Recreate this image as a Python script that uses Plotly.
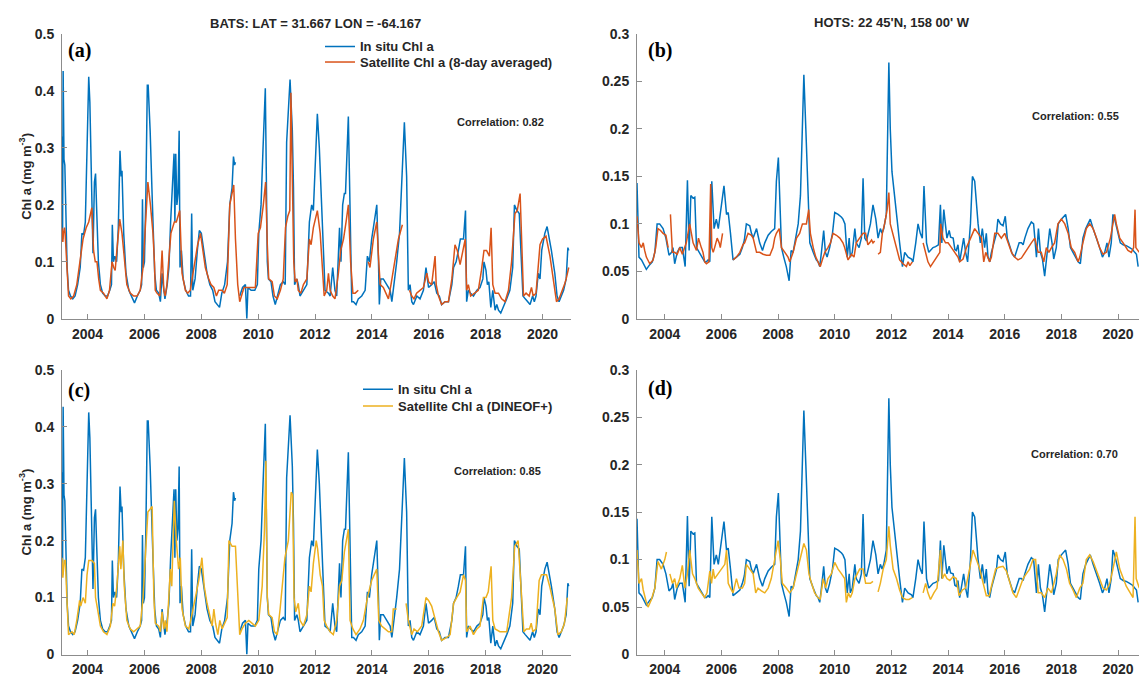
import plotly.graph_objects as go

W, H = 1139, 686

# ---------------- BATS in situ ----------------
bats_insitu_t = [
    2003.10, 2003.12, 2003.14, 2003.17, 2003.20, 2003.24, 2003.28, 2003.33, 2003.40, 2003.48,
    2003.56, 2003.65, 2003.74, 2003.80, 2003.86, 2003.92, 2004.00, 2004.04, 2004.08, 2004.14,
    2004.19, 2004.24, 2004.28, 2004.32, 2004.38, 2004.45, 2004.53, 2004.62, 2004.70, 2004.78,
    2004.84, 2004.87, 2004.91, 2004.96, 2005.02, 2005.08, 2005.14, 2005.18, 2005.21, 2005.27,
    2005.35, 2005.45, 2005.55, 2005.65, 2005.75, 2005.85, 2005.90, 2005.93, 2005.96, 2006.00,
    2006.05, 2006.10, 2006.13, 2006.20, 2006.28, 2006.36, 2006.42, 2006.50, 2006.56, 2006.62,
    2006.66, 2006.72, 2006.80, 2006.86, 2006.92, 2006.98, 2007.04, 2007.07, 2007.10, 2007.14,
    2007.18, 2007.22, 2007.25, 2007.30, 2007.36, 2007.45, 2007.55, 2007.62, 2007.66, 2007.70,
    2007.78, 2007.86, 2007.93, 2008.00, 2008.10, 2008.20, 2008.30, 2008.40, 2008.48, 2008.56,
    2008.64, 2008.72, 2008.82, 2008.92, 2009.00, 2009.08, 2009.13, 2009.17, 2009.20, 2009.27,
    2009.35, 2009.45, 2009.55, 2009.60, 2009.64, 2009.75, 2009.88, 2009.97, 2010.02, 2010.10,
    2010.17, 2010.22, 2010.25, 2010.32, 2010.36, 2010.45, 2010.52, 2010.60, 2010.68, 2010.78,
    2010.88, 2010.95, 2011.00, 2011.07, 2011.12, 2011.20, 2011.24, 2011.28, 2011.36, 2011.41,
    2011.47, 2011.59, 2011.71, 2011.80, 2011.88, 2011.94, 2012.08, 2012.15, 2012.23, 2012.29,
    2012.35, 2012.47, 2012.53, 2012.62, 2012.70, 2012.76, 2012.86, 2012.91, 2012.97, 2013.03,
    2013.07, 2013.17, 2013.23, 2013.27, 2013.29, 2013.35, 2013.44, 2013.52, 2013.64, 2013.76,
    2013.84, 2013.91, 2013.99, 2014.11, 2014.17, 2014.23, 2014.26, 2014.31, 2014.40, 2014.52,
    2014.64, 2014.70, 2014.75, 2014.87, 2014.97, 2015.05, 2015.14, 2015.22, 2015.28, 2015.34,
    2015.40, 2015.46, 2015.58, 2015.69, 2015.81, 2015.90, 2015.99, 2016.10, 2016.19, 2016.28,
    2016.37, 2016.45, 2016.57, 2016.69, 2016.81, 2016.87, 2016.96, 2017.04, 2017.11, 2017.22,
    2017.29, 2017.33, 2017.39, 2017.47, 2017.57, 2017.69, 2017.80, 2017.90, 2017.94, 2018.01,
    2018.06, 2018.11, 2018.18, 2018.25, 2018.33, 2018.39, 2018.45, 2018.53, 2018.62, 2018.74,
    2018.85, 2018.95, 2019.01, 2019.10, 2019.18, 2019.24, 2019.31, 2019.39, 2019.47, 2019.56,
    2019.65, 2019.71, 2019.77, 2019.85, 2019.91, 2019.97, 2020.08, 2020.16, 2020.31, 2020.43,
    2020.51, 2020.58, 2020.66, 2020.74, 2020.83, 2020.89, 2020.92]
bats_insitu_v = [
    0.32, 0.14, 0.435, 0.28, 0.27, 0.20, 0.09, 0.05, 0.04, 0.035,
    0.04, 0.06, 0.09, 0.15, 0.148, 0.17, 0.38, 0.425, 0.38, 0.20,
    0.115, 0.24, 0.255, 0.19, 0.10, 0.06, 0.045, 0.04, 0.04, 0.05,
    0.06, 0.165, 0.10, 0.11, 0.10, 0.16, 0.295, 0.25, 0.26, 0.15,
    0.08, 0.05, 0.04, 0.028, 0.04, 0.05, 0.06, 0.21, 0.09, 0.10,
    0.22, 0.41, 0.41, 0.33, 0.20, 0.08, 0.05, 0.045, 0.03, 0.08,
    0.06, 0.035, 0.06, 0.09, 0.17, 0.22, 0.29, 0.17, 0.29, 0.20,
    0.22, 0.33, 0.09, 0.12, 0.07, 0.05, 0.04, 0.04, 0.185, 0.05,
    0.07, 0.12, 0.155, 0.15, 0.11, 0.08, 0.06, 0.05, 0.03, 0.025,
    0.02, 0.045, 0.06, 0.10, 0.20, 0.23, 0.285, 0.27, 0.275, None,
    0.04, 0.055, 0.06, 0.0, 0.055, 0.05, 0.05, 0.06, 0.15, 0.20,
    0.30, 0.39, 0.405, 0.10, 0.07, 0.065, 0.04, 0.025, 0.04, 0.06,
    0.065, 0.06, 0.31, 0.37, 0.42, 0.33, 0.23, 0.06, 0.07, 0.06,
    0.04, 0.05, 0.06, 0.17, 0.20, 0.19, 0.36, 0.30, 0.20, 0.10,
    0.05, 0.045, 0.04, 0.09, 0.05, 0.04, 0.16, 0.10, 0.20, 0.22,
    0.22, 0.355, 0.20, 0.10, 0.03, 0.03, 0.025, 0.035, 0.04, 0.05,
    0.11, 0.10, 0.14, 0.18, 0.20, 0.10, 0.025, 0.07, 0.07, 0.06,
    0.05, 0.03, 0.05, 0.10, 0.15, 0.25, 0.345, 0.25, 0.05, 0.06,
    0.03, 0.025, 0.04, 0.035, 0.05, 0.09, 0.055, 0.06, 0.065, 0.045,
    0.04, 0.025, 0.03, 0.03, 0.06, 0.09, 0.10, 0.12, 0.14, 0.14,
    0.19, 0.03, 0.05, 0.045, 0.04, 0.05, 0.055, 0.07, 0.10, 0.085,
    0.06, 0.065, 0.02, 0.05, 0.015, 0.025, 0.015, 0.01, 0.02, 0.035,
    0.05, 0.09, 0.20, 0.19, 0.185, 0.12, 0.04, 0.035, 0.03, 0.025,
    0.04, 0.03, 0.04, 0.08, 0.07, 0.12, 0.15, 0.162, 0.12, 0.08,
    0.04, 0.03, 0.04, 0.05, 0.07, 0.125, 0.12]

# ---------------- BATS satellite, 8-day averaged ----------------
bats_8day_t = [
    2003.10, 2003.13, 2003.15, 2003.19, 2003.21, 2003.27, 2003.33, 2003.41, 2003.51, 2003.62,
    2003.74, 2003.84, 2003.95, 2004.04, 2004.15, 2004.21, 2004.27, 2004.33, 2004.39, 2004.45,
    2004.56, 2004.68, 2004.77, 2004.86, 2004.92, 2004.97, 2005.03, 2005.13, 2005.21, 2005.29,
    2005.38, 2005.50, 2005.62, 2005.74, 2005.85, 2005.95, 2006.03, 2006.12, 2006.21, 2006.30,
    2006.35, 2006.38, 2006.44, 2006.54, 2006.62, 2006.68, 2006.73, 2006.79, 2006.85, 2006.93,
    2007.05, 2007.12, 2007.24, 2007.32, 2007.44, 2007.52, 2007.61, 2007.71, 2007.79, 2007.87,
    2007.97, 2008.06, 2008.14, 2008.26, 2008.34, 2008.44, 2008.53, 2008.61, 2008.73, 2008.81,
    2008.91, 2009.00, 2009.08, 2009.14, 2009.20, 2009.28, 2009.35, 2009.50, 2009.70, 2009.90,
    2010.00, 2010.08, 2010.18, 2010.26, 2010.32, 2010.37, 2010.49, 2010.57, 2010.67, 2010.78,
    2010.88, 2010.96, 2011.04, 2011.11, 2011.15, 2011.20, 2011.25, 2011.30, 2011.36, 2011.41,
    2011.50, 2011.59, 2011.71, 2011.80, 2011.86, 2011.94, 2012.08, 2012.18, 2012.27, 2012.32,
    2012.41, 2012.47, 2012.53, 2012.62, 2012.70, 2012.82, 2012.90, 2013.00, 2013.09, 2013.17,
    2013.25, 2013.33, 2013.41, 2013.52, 2013.70, 2013.87, 2013.93, 2014.05, 2014.17, 2014.24,
    2014.29, 2014.40, 2014.52, 2014.58, 2014.67, 2014.81, 2014.93, 2015.07, 2015.20, 2015.32,
    2015.40, 2015.48, 2015.57, 2015.69, 2015.81, 2015.93, 2015.99, 2016.10, 2016.22, 2016.26,
    2016.34, 2016.45, 2016.57, 2016.69, 2016.81, 2016.92, 2017.00, 2017.10, 2017.19, 2017.28,
    2017.33, 2017.39, 2017.47, 2017.62, 2017.74, 2017.85, 2017.94, 2018.03, 2018.13, 2018.19,
    2018.25, 2018.33, 2018.45, 2018.56, 2018.68, 2018.80, 2018.91, 2019.03, 2019.11, 2019.21,
    2019.27, 2019.33, 2019.42, 2019.53, 2019.61, 2019.67, 2019.77, 2019.85, 2019.91, 2020.00,
    2020.12, 2020.26, 2020.37, 2020.49, 2020.58, 2020.70, 2020.77, 2020.83, 2020.92]
bats_8day_v = [
    0.16, 0.135, 0.15, 0.16, 0.15, 0.10, 0.04, 0.035, 0.04, 0.06,
    0.10, 0.14, 0.16, 0.17, 0.195, 0.12, 0.10, 0.10, 0.07, 0.05,
    0.045, 0.035, 0.05, 0.10, 0.09, 0.085, 0.12, 0.175, 0.15, 0.10,
    0.06, 0.045, 0.04, 0.04, 0.05, 0.09, 0.17, 0.24, 0.20, 0.15,
    0.10, 0.05, 0.045, 0.04, 0.12, 0.05, 0.04, 0.06, 0.10, 0.15,
    0.17, 0.17, 0.19, 0.08, 0.05, 0.045, 0.05, 0.08, 0.10, 0.13,
    0.15, 0.12, 0.09, 0.07, 0.06, 0.055, 0.04, 0.05, 0.05, 0.045,
    0.06, 0.20, 0.22, 0.235, 0.14, 0.06, 0.03, 0.055, 0.055, 0.055,
    0.15, 0.16, 0.20, 0.24, 0.13, 0.07, 0.065, 0.04, 0.035, 0.05,
    0.07, 0.16, 0.18, 0.19, 0.397, 0.24, 0.10, 0.065, 0.07, 0.05,
    0.045, 0.06, 0.07, 0.14, 0.13, 0.16, 0.19, 0.15, 0.08, 0.04,
    0.05, 0.08, 0.05, 0.04, 0.035, 0.08, 0.12, 0.14, 0.17, 0.20,
    0.10, 0.045, 0.045, 0.05, None, 0.10, 0.09, 0.14, 0.17, 0.10,
    0.06, 0.055, 0.04, 0.035, 0.06, 0.10, 0.14, 0.165, None, 0.05,
    0.04, 0.035, 0.045, 0.05, 0.055, 0.08, 0.065, 0.06, 0.11, 0.06,
    0.04, 0.025, 0.03, 0.03, 0.07, 0.13, 0.12, 0.095, 0.12, 0.14,
    0.05, 0.06, 0.04, 0.045, 0.05, 0.085, 0.12, 0.12, 0.11, 0.16,
    0.06, 0.045, 0.045, 0.035, 0.03, 0.05, 0.10, 0.185, 0.19, 0.22,
    0.12, 0.04, 0.045, 0.04, 0.055, 0.04, 0.045, 0.09, 0.13, 0.14,
    0.145, 0.11, 0.07, 0.03, 0.035, 0.05, 0.06, 0.07, 0.09]

# ---------------- BATS satellite, DINEOF+ ----------------
bats_dineof_t = [
    2003.10, 2003.13, 2003.18, 2003.22, 2003.27, 2003.33, 2003.45, 2003.53, 2003.62, 2003.72,
    2003.76, 2003.84, 2003.92, 2003.98, 2004.04, 2004.15, 2004.24, 2004.28, 2004.35, 2004.45,
    2004.56, 2004.68, 2004.80, 2004.89, 2004.95, 2005.03, 2005.13, 2005.17, 2005.24, 2005.29,
    2005.38, 2005.50, 2005.62, 2005.74, 2005.85, 2005.95, 2006.03, 2006.12, 2006.27, 2006.33,
    2006.38, 2006.50, 2006.56, 2006.62, 2006.68, 2006.73, 2006.79, 2006.85, 2006.91, 2006.96,
    2007.05, 2007.12, 2007.20, 2007.26, 2007.32, 2007.44, 2007.56, 2007.67, 2007.79, 2007.91,
    2008.02, 2008.10, 2008.20, 2008.29, 2008.38, 2008.44, 2008.50, 2008.58, 2008.65, 2008.73,
    2008.81, 2008.91, 2008.97, 2009.08, 2009.20, 2009.23, 2009.28, 2009.35, 2009.43, 2009.55,
    2009.67, 2009.79, 2009.90, 2010.02, 2010.14, 2010.22, 2010.27, 2010.32, 2010.37, 2010.49,
    2010.57, 2010.67, 2010.77, 2010.94, 2011.06, 2011.16, 2011.21, 2011.26, 2011.32, 2011.41,
    2011.47, 2011.59, 2011.71, 2011.80, 2011.86, 2011.94, 2012.04, 2012.09, 2012.18, 2012.26,
    2012.32, 2012.41, 2012.53, 2012.64, 2012.76, 2012.86, 2012.94, 2013.03, 2013.17, 2013.23,
    2013.33, 2013.44, 2013.58, 2013.70, 2013.84, 2013.99, 2014.17, 2014.24, 2014.34, 2014.46,
    2014.58, 2014.70, 2014.75, 2014.87, 2015.05, 2015.20, 2015.28, 2015.40, 2015.48, 2015.60,
    2015.75, 2015.90, 2015.99, 2016.10, 2016.22, 2016.34, 2016.45, 2016.63, 2016.75, 2016.87,
    2016.98, 2017.10, 2017.22, 2017.29, 2017.33, 2017.45, 2017.57, 2017.69, 2017.80, 2017.92,
    2018.01, 2018.09, 2018.19, 2018.25, 2018.33, 2018.50, 2018.62, 2018.74, 2018.91, 2019.02,
    2019.14, 2019.25, 2019.34, 2019.43, 2019.54, 2019.60, 2019.66, 2019.77, 2019.88, 2019.96,
    2020.14, 2020.25, 2020.43, 2020.54, 2020.66, 2020.77, 2020.87]
bats_dineof_v = [
    0.17, 0.135, 0.165, 0.165, 0.10, 0.035, 0.04, 0.035, 0.06, 0.095,
    0.085, 0.10, 0.09, 0.14, 0.165, 0.165, 0.16, 0.10, 0.08, 0.05,
    0.04, 0.035, 0.05, 0.09, 0.085, 0.12, 0.19, 0.15, 0.20, 0.12,
    0.06, 0.045, 0.04, 0.045, 0.05, 0.10, 0.17, 0.25, 0.26, 0.10,
    0.055, 0.05, 0.04, 0.075, 0.045, 0.06, 0.04, 0.10, 0.15, 0.12,
    0.27, 0.20, 0.15, 0.17, 0.08, 0.05, 0.045, 0.07, 0.10, 0.13,
    0.17, 0.12, 0.09, 0.07, 0.05, 0.08, 0.055, 0.035, 0.06, 0.045,
    0.055, 0.065, 0.20, 0.19, 0.19, 0.155, 0.10, 0.035, 0.045, 0.055,
    0.06, 0.055, 0.05, 0.06, 0.12, 0.22, 0.34, 0.10, 0.07, 0.065,
    0.04, 0.035, 0.08, 0.17, 0.20, 0.285, 0.28, 0.10, 0.075, 0.09,
    0.06, 0.05, 0.07, 0.12, 0.11, 0.16, 0.20, 0.185, 0.14, 0.12,
    0.06, 0.05, 0.04, 0.035, 0.06, 0.12, 0.13, 0.18, 0.22, 0.06,
    0.045, 0.035, 0.045, 0.06, 0.10, 0.13, 0.15, 0.06, 0.05, 0.045,
    0.04, 0.04, 0.08, 0.08, None, 0.09, 0.06, 0.035, 0.045, 0.04,
    0.05, 0.10, 0.095, 0.085, 0.06, 0.04, 0.025, 0.03, 0.035, 0.09,
    0.10, 0.11, 0.14, 0.13, 0.04, 0.05, 0.035, 0.045, 0.05, 0.10,
    0.10, 0.11, 0.155, 0.06, 0.045, 0.04, 0.04, 0.04, 0.10, 0.19,
    0.20, 0.10, 0.04, 0.045, 0.045, 0.055, 0.04, 0.045, 0.13, 0.14,
    0.14, 0.12, 0.08, 0.035, 0.04, 0.055, 0.10]

# ---------------- HOTS in situ ----------------
hots_insitu_t = [
    2003.02, 2003.09, 2003.18, 2003.26, 2003.35, 2003.47, 2003.56, 2003.65, 2003.73, 2003.82,
    2003.94, 2004.04, 2004.15, 2004.24, 2004.29, 2004.35, 2004.44, 2004.53, 2004.62, 2004.72,
    2004.80, 2004.86, 2004.92, 2005.00, 2005.06, 2005.12, 2005.21, 2005.29, 2005.35, 2005.41,
    2005.47, 2005.53, 2005.59, 2005.66, 2005.74, 2005.82, 2005.89, 2005.96, 2006.01, 2006.09,
    2006.18, 2006.24, 2006.32, 2006.41, 2006.53, 2006.65, 2006.74, 2006.81, 2006.88, 2007.00,
    2007.06, 2007.12, 2007.18, 2007.24, 2007.29, 2007.35, 2007.45, 2007.53, 2007.65, 2007.76,
    2007.88, 2007.94, 2008.01, 2008.06, 2008.12, 2008.20, 2008.29, 2008.39, 2008.46, 2008.53,
    2008.62, 2008.71, 2008.79, 2008.86, 2008.91, 2008.98, 2009.05, 2009.12, 2009.24, 2009.35,
    2009.41, 2009.47, 2009.53, 2009.61, 2009.67, 2009.73, 2009.82, 2009.92, 2010.00, 2010.12,
    2010.24, 2010.29, 2010.36, 2010.44, 2010.51, 2010.55, 2010.62, 2010.71, 2010.76, 2010.86,
    2010.94, 2011.00, 2011.06, 2011.12, 2011.26, 2011.35, 2011.45, 2011.53, 2011.61, 2011.67,
    2011.73, 2011.82, 2011.91, 2011.96, 2012.02, 2012.12, 2012.20, 2012.29, 2012.39, 2012.47,
    2012.59, 2012.71, 2012.76, 2012.86, 2012.94, 2013.02, 2013.09, 2013.15, 2013.24, 2013.32,
    2013.39, 2013.47, 2013.56, 2013.66, 2013.73, 2013.78, 2013.85, 2013.91, 2013.96, 2014.04,
    2014.09, 2014.18, 2014.24, 2014.29, 2014.35, 2014.41, 2014.48, 2014.55, 2014.62, 2014.69,
    2014.79, 2014.86, 2014.94, 2015.00, 2015.06, 2015.14, 2015.21, 2015.29, 2015.35, 2015.41,
    2015.47, 2015.53, 2015.61, 2015.71, 2015.76, 2015.85, 2015.94, 2016.02, 2016.09, 2016.18,
    2016.27, 2016.35, 2016.41, 2016.51, 2016.59, 2016.65, 2016.71, 2016.82, 2016.94, 2017.02,
    2017.12, 2017.19, 2017.26, 2017.33, 2017.41, 2017.49, 2017.59, 2017.67, 2017.73, 2017.82,
    2017.89, 2018.00, 2018.08, 2018.15, 2018.24, 2018.32, 2018.41, 2018.51, 2018.59, 2018.67,
    2018.76, 2018.86, 2018.94, 2019.02, 2019.12, 2019.24, 2019.35, 2019.45, 2019.53, 2019.61,
    2019.68, 2019.76, 2019.82, 2019.88, 2020.00, 2020.08, 2020.18, 2020.29, 2020.41, 2020.51,
    2020.59, 2020.65, 2020.71]
hots_insitu_v = [
    0.143, 0.065, 0.062, 0.058, 0.052, 0.057, 0.06, 0.07, 0.10, 0.10,
    0.095, 0.085, 0.067, 0.07, 0.075, 0.058, 0.07, 0.075, 0.075, 0.055,
    0.146, 0.072, 0.13, 0.127, 0.128, 0.075, 0.07, 0.065, 0.062, 0.06,
    0.06, 0.062, 0.06, 0.145, 0.095, 0.105, 0.095, 0.11, 0.12, 0.14,
    0.11, 0.112, 0.09, 0.062, 0.065, 0.068, 0.075, 0.083, 0.10, 0.098,
    0.09, 0.085, 0.09, 0.095, 0.088, 0.08, 0.072, 0.08, 0.088, 0.092,
    0.095, 0.145, 0.17, 0.125, 0.075, 0.065, 0.055, 0.04, 0.072, 0.07,
    0.085, 0.10, 0.13, 0.20, 0.257, 0.20, 0.13, 0.08, 0.07, 0.062,
    0.06, 0.055, 0.07, 0.093, 0.07, 0.065, 0.075, 0.09, 0.112, 0.11,
    0.107, 0.105, 0.10, 0.065, 0.085, 0.065, 0.07, 0.095, 0.08, 0.075,
    0.085, 0.148, 0.085, 0.082, 0.10, 0.12, 0.105, 0.085, 0.095, 0.09,
    0.095, 0.11, 0.27, 0.20, 0.155, 0.13, 0.105, 0.08, 0.055, 0.07,
    0.065, 0.063, 0.06, 0.08, 0.10, 0.09, 0.085, 0.14, 0.08, 0.07,
    0.072, 0.075, 0.076, 0.078, 0.12, 0.08, 0.115, 0.10, 0.085, 0.093,
    0.086, 0.085, 0.073, 0.072, 0.078, 0.06, 0.075, 0.085, 0.07, 0.06,
    0.10, 0.15, 0.145, 0.12, 0.10, 0.08, 0.095, 0.075, 0.09, 0.065,
    0.06, 0.07, 0.08, 0.09, 0.105, 0.10, 0.098, 0.108, 0.085, 0.075,
    0.068, 0.065, 0.07, 0.08, 0.08, 0.078, 0.085, 0.095, 0.102, 0.10,
    0.065, 0.095, 0.07, 0.063, 0.045, 0.07, 0.095, 0.08, 0.063, 0.075,
    0.10, 0.105, 0.108, 0.11, 0.095, 0.075, 0.07, 0.065, 0.06, 0.058,
    0.085, 0.095, 0.10, 0.105, 0.095, 0.085, 0.075, 0.065, 0.07, 0.08,
    0.065, 0.08, 0.11, 0.105, 0.09, 0.08, 0.078, 0.077, 0.075, 0.073,
    0.07, 0.068, 0.055]

# ---------------- HOTS satellite, 8-day averaged ----------------
hots_8day_t = [
    2003.02, 2003.09, 2003.18, 2003.24, 2003.29, 2003.35, 2003.47, 2003.59, 2003.68, 2003.76,
    2003.85, 2003.94, 2004.04, 2004.12, 2004.16, 2004.20, 2004.27, 2004.35, 2004.44, 2004.53,
    2004.62, 2004.76, 2004.88, 2004.94, 2005.00, 2005.12, 2005.19, 2005.29, 2005.35, 2005.41,
    2005.47, 2005.56, 2005.62, 2005.66, 2005.71, 2005.76, 2005.85, 2005.92, 2005.96, 2006.04,
    2006.20, 2006.41, 2006.53, 2006.65, 2006.76, 2006.82, 2006.94, 2007.06, 2007.12, 2007.24,
    2007.35, 2007.47, 2007.59, 2007.71, 2007.82, 2007.88, 2007.94, 2008.04, 2008.12, 2008.24,
    2008.35, 2008.41, 2008.53, 2008.65, 2008.76, 2008.86, 2009.00, 2009.08, 2009.14, 2009.24,
    2009.33, 2009.41, 2009.49, 2009.56, 2009.65, 2009.76, 2009.85, 2009.94, 2010.06, 2010.18,
    2010.29, 2010.35, 2010.47, 2010.59, 2010.68, 2010.76, 2010.88, 2011.00, 2011.09, 2011.17,
    2011.23, 2011.30, 2011.35, 2011.41, 2011.47, 2011.53, 2011.61, 2011.68, 2011.76, 2011.85,
    2011.91, 2011.96, 2012.04, 2012.12, 2012.20, 2012.29, 2012.41, 2012.53, 2012.59, 2012.65,
    2012.74, 2012.90, 2013.12, 2013.21, 2013.29, 2013.38, 2013.49, 2013.61, 2013.71, 2013.74,
    2013.82, 2013.91, 2014.00, 2014.12, 2014.24, 2014.35, 2014.41, 2014.53, 2014.65, 2014.94,
    2015.06, 2015.18, 2015.26, 2015.33, 2015.47, 2015.53, 2015.65, 2015.76, 2015.88, 2016.00,
    2016.12, 2016.24, 2016.35, 2016.47, 2016.59, 2016.71, 2016.82, 2016.94, 2017.06, 2017.18,
    2017.29, 2017.38, 2017.47, 2017.56, 2017.65, 2017.76, 2017.88, 2018.00, 2018.12, 2018.24,
    2018.35, 2018.47, 2018.59, 2018.65, 2018.76, 2018.88, 2019.00, 2019.12, 2019.24, 2019.35,
    2019.47, 2019.59, 2019.73, 2019.88, 2019.94, 2020.06, 2020.18, 2020.29, 2020.35, 2020.47,
    2020.55, 2020.60, 2020.63, 2020.75]
hots_8day_v = [
    0.108, 0.08, 0.075, 0.08, 0.072, 0.065, 0.058, 0.062, 0.075, 0.095,
    0.093, 0.09, 0.088, 0.075, None, 0.11, 0.07, 0.07, 0.068, 0.075,
    0.068, 0.08, 0.10, 0.09, 0.08, 0.072, 0.085, 0.075, 0.07, 0.06,
    0.058, 0.06, 0.142, 0.075, 0.07, 0.075, 0.085, 0.08, 0.075, 0.09,
    None, 0.062, 0.065, 0.07, 0.078, 0.08, 0.09, 0.088, 0.085, 0.07,
    0.07, 0.068, 0.067, 0.067, 0.075, 0.085, 0.09, 0.095, 0.075, 0.07,
    0.065, 0.06, 0.07, 0.085, 0.09, 0.10, 0.10, 0.115, 0.09, 0.075,
    0.065, 0.06, 0.055, 0.062, 0.07, 0.075, 0.08, 0.09, 0.088, 0.085,
    0.08, 0.075, 0.062, 0.068, 0.065, 0.08, 0.085, 0.09, 0.09, 0.078,
    0.08, 0.083, 0.08, 0.082, None, 0.068, 0.07, 0.09, 0.10, 0.115,
    0.133, 0.10, 0.09, 0.08, 0.07, 0.062, 0.058, 0.055, 0.06, 0.056,
    0.06, None, 0.08, 0.07, 0.06, 0.055, 0.06, 0.065, 0.07, 0.10,
    0.085, 0.08, 0.08, 0.075, 0.07, 0.065, 0.06, 0.063, 0.075, 0.095,
    0.09, 0.085, 0.06, 0.07, 0.06, 0.065, 0.09, 0.09, 0.085, 0.09,
    0.08, 0.07, 0.065, 0.062, 0.064, 0.07, 0.075, 0.08, 0.085, 0.07,
    0.07, 0.06, 0.075, 0.07, 0.075, 0.08, 0.10, 0.105, 0.10, 0.09,
    0.075, 0.07, 0.06, 0.065, 0.08, 0.095, 0.10, 0.095, 0.085, 0.075,
    0.068, 0.07, 0.085, 0.11, 0.10, 0.085, 0.08, 0.075, 0.072, 0.07,
    0.075, 0.115, 0.075, 0.07]

# ---------------- HOTS satellite, DINEOF+ ----------------
hots_dineof_t = [
    2003.02, 2003.09, 2003.18, 2003.24, 2003.35, 2003.41, 2003.53, 2003.65, 2003.76, 2003.88,
    2004.00, 2004.06, 2004.12, 2004.18, 2004.27, 2004.35, 2004.41, 2004.53, 2004.62, 2004.71,
    2004.80, 2004.88, 2004.98, 2005.06, 2005.18, 2005.29, 2005.41, 2005.49, 2005.59, 2005.65,
    2005.71, 2005.76, 2005.88, 2006.00, 2006.12, 2006.18, 2006.24, 2006.32, 2006.41, 2006.53,
    2006.62, 2006.74, 2006.82, 2006.88, 2007.00, 2007.12, 2007.21, 2007.29, 2007.41, 2007.53,
    2007.65, 2007.76, 2007.88, 2008.00, 2008.08, 2008.15, 2008.29, 2008.41, 2008.53, 2008.65,
    2008.76, 2008.91, 2009.00, 2009.09, 2009.18, 2009.29, 2009.41, 2009.49, 2009.59, 2009.68,
    2009.76, 2009.88, 2010.00, 2010.12, 2010.24, 2010.35, 2010.41, 2010.48, 2010.55, 2010.62,
    2010.71, 2010.79, 2010.88, 2011.00, 2011.09, 2011.19, 2011.26, 2011.35, 2011.45, 2011.53,
    2011.61, 2011.71, 2011.82, 2011.91, 2011.96, 2012.06, 2012.18, 2012.29, 2012.39, 2012.51,
    2012.62, 2012.74, 2012.90, 2013.12, 2013.21, 2013.29, 2013.38, 2013.50, 2013.61, 2013.73,
    2013.80, 2013.88, 2013.96, 2014.06, 2014.18, 2014.29, 2014.39, 2014.51, 2014.62, 2014.76,
    2014.88, 2015.00, 2015.12, 2015.24, 2015.35, 2015.45, 2015.56, 2015.68, 2015.80, 2015.94,
    2016.06, 2016.18, 2016.29, 2016.41, 2016.53, 2016.65, 2016.76, 2016.88, 2017.00, 2017.09,
    2017.18, 2017.29, 2017.41, 2017.53, 2017.65, 2017.82, 2017.94, 2018.06, 2018.18, 2018.29,
    2018.41, 2018.53, 2018.65, 2018.76, 2018.88, 2019.00, 2019.12, 2019.24, 2019.35, 2019.47,
    2019.59, 2019.71, 2019.82, 2019.94, 2020.06, 2020.18, 2020.29, 2020.43, 2020.53, 2020.60,
    2020.64, 2020.75]
hots_dineof_v = [
    0.11, 0.075, 0.08, 0.068, 0.055, 0.05, 0.058, 0.07, 0.098, 0.09,
    0.10, 0.108, None, 0.085, 0.075, 0.08, 0.07, 0.08, 0.094, 0.07,
    0.085, 0.11, 0.085, 0.08, 0.07, 0.065, 0.06, 0.065, 0.088, 0.075,
    0.09, 0.08, 0.085, 0.09, 0.095, 0.11, 0.075, 0.07, 0.065, 0.08,
    0.07, 0.07, 0.075, 0.095, 0.09, 0.085, 0.065, 0.07, 0.067, 0.065,
    0.07, 0.08, 0.10, 0.12, 0.10, 0.075, 0.07, 0.065, 0.07, 0.085,
    0.10, 0.117, 0.11, 0.085, 0.075, 0.065, 0.06, 0.058, 0.08, 0.07,
    0.08, 0.085, 0.097, 0.09, 0.085, 0.08, 0.055, 0.065, 0.06, 0.065,
    0.08, 0.085, 0.09, 0.09, 0.075, 0.075, 0.075, 0.077, None, 0.066,
    0.075, 0.09, 0.10, 0.135, 0.115, 0.09, 0.08, 0.068, 0.06, 0.058,
    0.058, 0.06, None, 0.065, 0.075, 0.065, 0.058, 0.065, 0.07, 0.11,
    0.08, 0.085, 0.08, 0.078, 0.082, 0.08, 0.062, 0.068, 0.07, 0.09,
    0.11, 0.10, 0.09, 0.075, 0.062, 0.062, 0.075, 0.09, 0.092, 0.093,
    0.088, 0.075, 0.065, 0.06, 0.07, 0.08, 0.085, 0.09, 0.10, 0.10,
    0.065, 0.065, 0.06, 0.07, 0.065, 0.085, 0.105, 0.10, 0.09, 0.075,
    0.068, 0.06, 0.07, 0.075, 0.10, 0.105, 0.098, 0.088, 0.078, 0.07,
    0.068, 0.075, 0.09, 0.108, 0.09, 0.08, 0.072, 0.065, 0.06, 0.145,
    0.08, 0.07]

for a, b in [(bats_insitu_t, bats_insitu_v), (bats_8day_t, bats_8day_v),
             (bats_dineof_t, bats_dineof_v), (hots_insitu_t, hots_insitu_v),
             (hots_8day_t, hots_8day_v), (hots_dineof_t, hots_dineof_v)]:
    assert len(a) == len(b), (len(a), len(b))

# ---------------- text / ticks ----------------
year_ticks = [2004, 2006, 2008, 2010, 2012, 2014, 2016, 2018, 2020]
bats_yticks = [0, 0.1, 0.2, 0.3, 0.4, 0.5]
bats_ylabels = ["0", "0.1", "0.2", "0.3", "0.4", "0.5"]
hots_yticks = [0, 0.05, 0.1, 0.15, 0.2, 0.25, 0.3]
hots_ylabels = ["0", "0.05", "0.1", "0.15", "0.2", "0.25", "0.3"]
corr_labels = ["Correlation: 0.82", "Correlation: 0.55", "Correlation: 0.85", "Correlation: 0.70"]
panel_labels = ["(a)", "(b)", "(c)", "(d)"]
bats_title = "BATS: LAT = 31.667 LON = -64.167"
hots_title = "HOTS: 22 45'N, 158 00' W"
name_insitu = "In situ Chl a"
name_8day = "Satellite Chl a (8-day averaged)"
name_dineof = "Satellite Chl a (DINEOF+)"

BLUE = "#0072BD"
ORANGE = "#D95319"
YELLOW = "#EDB120"
SANS = "Arial, 'Liberation Sans', sans-serif"
SERIF = "'Times New Roman', 'Liberation Serif', serif"
TXT = "#262626"
AX = "#8c8c8c"
LW = 1.5

fig = go.Figure()

def line(x, y, color, xa, ya, name, show, legend="legend"):
    fig.add_trace(go.Scatter(x=x, y=y, mode="lines", name=name, showlegend=show,
                             legend=legend, xaxis=xa, yaxis=ya, connectgaps=False,
                             line=dict(color=color, width=LW)))

# (a)
line(bats_insitu_t, bats_insitu_v, BLUE, "x", "y", name_insitu, True, "legend")
line(bats_8day_t, bats_8day_v, ORANGE, "x", "y", name_8day, True, "legend2")
# (b)
line(hots_insitu_t, hots_insitu_v, BLUE, "x2", "y2", name_insitu, False)
line(hots_8day_t, hots_8day_v, ORANGE, "x2", "y2", name_8day, False)
# (c)
line(bats_insitu_t, bats_insitu_v, BLUE, "x3", "y3", name_insitu, True, "legend3")
line(bats_dineof_t, bats_dineof_v, YELLOW, "x3", "y3", name_dineof, True, "legend4")
# (d)
line(hots_insitu_t, hots_insitu_v, BLUE, "x4", "y4", name_insitu, False)
line(hots_dineof_t, hots_dineof_v, YELLOW, "x4", "y4", name_dineof, False)

def px_x(p):
    return p / W

def px_y(p):
    return 1 - p / H

tickfont = dict(family=SANS, size=14, color=TXT, weight="bold")

def xax(domain, rng, anchor):
    return dict(domain=domain, range=rng, anchor=anchor, tickmode="array",
                tickvals=year_ticks, ticktext=[str(t) for t in year_ticks],
                ticks="inside", ticklen=5, tickcolor=AX, showline=True, linecolor=AX,
                linewidth=1, showgrid=False, zeroline=False, tickfont=tickfont,
                ticklabelstandoff=2)

def yax(domain, rng, vals, labels, anchor, title=None):
    d = dict(domain=domain, range=rng, anchor=anchor, tickmode="array",
             tickvals=vals, ticktext=labels, ticks="inside", ticklen=5, tickcolor=AX,
             showline=True, linecolor=AX, linewidth=1, showgrid=False, zeroline=False,
             tickfont=tickfont, ticklabelstandoff=4)
    if title:
        d["title"] = dict(text=title, font=dict(family=SANS, size=13, color=TXT, weight="bold"),
                          standoff=0)
    return d

xa_dom = [px_x(62), px_x(571)]
xb_dom = [px_x(637), 1.0]
top_dom = [px_y(318.2), px_y(26.7)]
bot_dom = [px_y(662), px_y(370.3)]
ylab = "Chl a (mg m<sup>-3</sup>)"

def leg(x_line_start, y_top):
    return dict(x=px_x(x_line_start - 5), y=px_y(y_top), xanchor="left", yanchor="top",
                bgcolor="rgba(0,0,0,0)", borderwidth=0,
                font=dict(family=SANS, size=13, color=TXT, weight="bold"))

fig.update_layout(
    width=W, height=H, margin=dict(l=0, r=0, t=0, b=0),
    paper_bgcolor="white", plot_bgcolor="white",
    xaxis=xax(xa_dom, [2003.1, 2021.0], "y"),
    yaxis=yax(top_dom, [0, 0.5], bats_yticks, bats_ylabels, "x", ylab),
    xaxis2=xax(xb_dom, [2003.02, 2020.74], "y2"),
    yaxis2=yax(top_dom, [0, 0.3], hots_yticks, hots_ylabels, "x2"),
    xaxis3=xax(xa_dom, [2003.1, 2021.0], "y3"),
    yaxis3=yax(bot_dom, [0, 0.5], bats_yticks, bats_ylabels, "x3", ylab),
    xaxis4=xax(xb_dom, [2003.02, 2020.74], "y4"),
    yaxis4=yax(bot_dom, [0, 0.3], hots_yticks, hots_ylabels, "x4"),
    legend=leg(325, 24),
    legend2=leg(325, 40),
    legend3=leg(363, 375),
    legend4=leg(363, 392.3),
)

ann = []
def text(s, x, y, size, family=SANS, xanchor="center", color=TXT):
    ann.append(dict(text=s, x=px_x(x), y=px_y(y), xref="paper", yref="paper",
                    xanchor=xanchor, yanchor="middle", showarrow=False,
                    font=dict(family=family, size=size, color=color, weight="bold")))

text(bats_title, 315, 16, 13)
text(hots_title, 892, 15, 13)
text(panel_labels[0], 66, 44, 20, SERIF, "left", "black")
text(panel_labels[1], 646, 44, 20, SERIF, "left", "black")
text(panel_labels[2], 66, 392, 20, SERIF, "left", "black")
text(panel_labels[3], 646, 390, 20, SERIF, "left", "black")
text(corr_labels[0], 500, 117, 11)
text(corr_labels[1], 1075, 111, 11)
text(corr_labels[2], 497, 474, 11)
text(corr_labels[3], 1074, 457, 11)
fig.update_layout(annotations=ann)

fig.write_html("out.html")
